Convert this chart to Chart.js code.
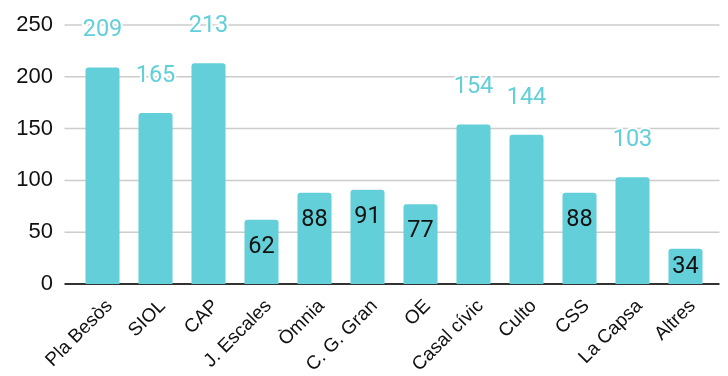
<!DOCTYPE html>
<html>
<head>
<meta charset="utf-8">
<script src="https://cdn.jsdelivr.net/npm/chart.js@4/dist/chart.umd.min.js"></script>
<style>
  html, body { margin: 0; padding: 0; background: #fff; }
  #wrap { width: 728px; height: 376px; position: relative; }
</style>
</head>
<body>
<div id="wrap"><canvas id="grafico"></canvas></div>
<script>
// datos
const categorias = ['Pla Besòs', 'SIOL', 'CAP', 'J. Escales', 'Òmnia', 'C. G. Gran', 'OE', 'Casal cívic', 'Culto', 'CSS', 'La Capsa', 'Altres'];
const valores = [209, 165, 213, 62, 88, 91, 77, 154, 144, 88, 103, 34];
const yMax = 250;
const yPaso = 50;

const colorBarra = '#62cfd9';

// grid lines + baseline drawn a bit wider than the chart area
const lineasFondo = {
  id: 'lineasFondo',
  beforeDatasetsDraw(chart) {
    const { ctx, chartArea, scales } = chart;
    const x0 = chartArea.left - 11.5;
    const x1 = chartArea.right + 7.5;
    ctx.save();
    scales.y.ticks.forEach(t => {
      if (t.value === 0) return;
      const y = scales.y.getPixelForValue(t.value);
      ctx.strokeStyle = '#cccccc';
      ctx.lineWidth = 1.5;
      ctx.beginPath();
      ctx.moveTo(x0, y);
      ctx.lineTo(x1, y);
      ctx.stroke();
    });
    const yb = scales.y.getPixelForValue(0);
    ctx.strokeStyle = '#333333';
    ctx.lineWidth = 2;
    ctx.beginPath();
    ctx.moveTo(x0, yb);
    ctx.lineTo(x1, yb);
    ctx.stroke();
    ctx.restore();
  }
};

// etiquetas de valor
const etiquetas = {
  id: 'etiquetas',
  afterDatasetsDraw(chart) {
    const { ctx } = chart;
    const meta = chart.getDatasetMeta(0);
    ctx.save();
    ctx.font = '23.5px Roboto';
    ctx.textAlign = 'center';
    ctx.textBaseline = 'middle';
    meta.data.forEach((bar, i) => {
      const v = valores[i];
      if (v >= 100) {
        const y = bar.y - 37;
        ctx.lineWidth = 4;
        ctx.strokeStyle = '#ffffff';
        ctx.lineJoin = 'round';
        ctx.strokeText(String(v), bar.x, y);
        ctx.fillStyle = colorBarra;
        ctx.fillText(String(v), bar.x, y);
      } else {
        const y = Math.min(bar.y + 27, (bar.y + bar.base) / 2 + 1);
        ctx.fillStyle = '#111111';
        ctx.fillText(String(v), bar.x, y);
      }
    });
    ctx.restore();
  }
};

new Chart(document.getElementById('grafico'), {
  type: 'bar',
  data: {
    labels: categorias,
    datasets: [{
      data: valores,
      backgroundColor: colorBarra,
      borderRadius: { topLeft: 3, topRight: 3 },
      borderSkipped: 'bottom',
      categoryPercentage: 1,
      barPercentage: 0.642
    }]
  },
  options: {
    responsive: true,
    maintainAspectRatio: false,
    animation: false,
    layout: { padding: { left: 0, right: 16, top: 25, bottom: 0 } },
    plugins: {
      legend: { display: false },
      tooltip: { enabled: false }
    },
    scales: {
      x: {
        grid: { display: false },
        border: { display: false },
        ticks: {
          color: '#111',
          font: { family: 'Liberation Sans', size: 19 },
          minRotation: 45,
          maxRotation: 45,
          padding: 3,
          labelOffset: 7
        },
        afterFit(scale) {
          scale.height = 92;
          scale.paddingLeft = 0;
          scale.paddingRight = 0;
        }
      },
      y: {
        min: 0,
        max: yMax,
        grid: { display: false, drawTicks: false },
        border: { display: false },
        ticks: {
          stepSize: yPaso,
          color: '#111',
          font: { family: 'Liberation Sans', size: 22 },
          padding: 23
        },
        afterFit(scale) {
          scale.width = 76;
          scale.paddingTop = 0;
          scale.paddingBottom = 0;
        }
      }
    }
  },
  plugins: [lineasFondo, etiquetas]
});
</script>
</body>
</html>
